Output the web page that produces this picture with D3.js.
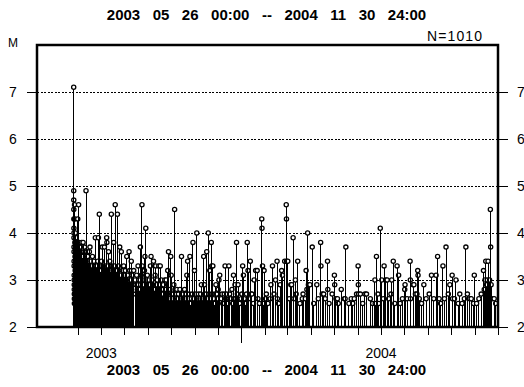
<!DOCTYPE html>
<html lang="en">
<head>
<meta charset="UTF-8">
<title>M-T plot 2003-2004</title>
<script src="https://d3js.org/d3.v7.min.js"></script>
<style>
  html, body { margin: 0; padding: 0; background: #fff; }
  text { font-family: "Liberation Sans", Arial, sans-serif; fill: #000; }
</style>
</head>
<body>
<div id="chart"></div>
<script>
// labels
const periodLabel = "2003   05   26   00:00   --   2004   11   30   24:00";
const countLabel = "N=1010";
const magTicks = [2, 3, 4, 5, 6, 7];
const magGrid = [3, 4, 5, 6, 7];
const yearLabels = [2003, 2004];

// events: [days after 2003-05-26 00:00, magnitude]
const firstDays = [
  [0.0,7.1],[0.05,4.9],[0.1,4.7],[0.15,4.5],[0.2,4.3],[0.25,4.1],[0.3,4.0],[0.35,3.9],[0.4,3.7],
  [0.45,3.6],[0.5,3.4],[0.55,3.3],[0.6,3.1],[0.65,3.0],[0.7,2.9],[0.75,2.8],[0.8,2.7],[0.85,2.6],[0.9,2.5],
  [1.1,4.6],[1.3,4.3],[1.5,3.8],[1.6,2.7],[1.7,3.5],[1.9,3.2],[1.95,2.9]
];
const earlyEvents = [
  [2.2,4.0],[2.5,3.6],[2.8,3.1],[2.9,2.7],[3.3,3.9],[3.6,3.4],[3.8,2.9],[4.2,3.8],[4.6,3.2],[4.8,2.8],
  [5.3,4.3],[5.5,3.5],[5.8,2.9],[6.4,4.6],[6.6,3.7],[6.9,3.0],[7.2,3.8],[7.6,3.1],[7.9,2.7],[8.3,3.7],[8.7,3.0],
  [9.1,3.6],[9.5,3.2],[9.9,2.8],[10.4,3.8],[10.7,2.9],[11.2,3.5],[11.8,3.0],[12.3,3.8],[12.6,3.3],[12.9,2.7],
  [13.4,3.6],[13.8,2.9],[14.2,3.7],[14.6,3.1],[15.5,3.5],[15.8,2.8],[16.1,4.9],[16.4,3.4],[16.8,2.9],
  [17.3,3.6],[17.7,3.0],[18.2,3.5],[18.8,2.8],[19.4,3.4],[19.7,3.0],[20.5,3.6],[20.9,2.7],[21.3,3.7],[21.6,3.2],
  [22.4,3.4],[22.8,2.8],[23.2,3.3],[23.7,2.9],[24.5,3.5],[24.9,2.7],[25.3,3.2],[25.8,2.8],[26.4,3.4],[26.6,3.0],
  [27.2,3.3],[27.7,2.7],[28.3,3.9],[28.6,3.1],[29.4,3.3],[29.8,2.8],[30.2,3.2],[30.7,2.9],[31.5,3.4],[31.9,2.7],
  [32.3,3.9],[32.7,3.0],[33.5,4.4],[33.8,3.2],[34.2,3.3],[34.6,2.8],[35.4,3.2],[35.9,2.7],[36.3,3.4],[36.7,2.9],
  [37.2,3.7],[37.6,3.0],[38.4,3.3],[38.8,2.8],[39.3,3.1],[39.7,2.7],[40.2,3.7],[40.6,3.2],[41.5,3.3],[41.8,2.9],
  [42.3,3.2],[42.7,2.7],[43.1,3.9],[43.4,3.8],[43.8,3.0],[44.5,3.3],[44.9,2.8],[45.3,3.1],[45.6,3.6],
  [47.2,3.4],[47.6,2.9],[48.4,3.2],[48.8,2.7],[49.2,4.4],[49.6,3.0],[50.3,3.3],[50.7,2.8],[51.4,3.2],[51.8,2.9],
  [52.3,3.8],[52.7,3.0],[53.2,3.3],[53.6,2.7],[54.3,4.6],[54.7,3.1],[55.4,3.2],[55.8,2.8],[56.3,3.1],[56.7,2.7],
  [57.2,4.4],[57.6,3.0],[58.4,3.3],[58.8,2.8],[59.3,3.0],[60.2,3.7],[60.6,2.9],[61.4,3.1],[61.8,2.7],
  [62.3,3.6],[62.7,2.8],[63.5,3.2],[64.3,3.0],[64.7,2.7],[65.4,3.3],[66.2,3.1],[66.6,2.8],[67.5,3.2],[68.3,2.9],
  [69.4,3.5],[69.8,2.8],[70.3,3.1],[71.2,3.0],[71.6,2.7],[72.4,3.6],[72.8,2.9],[73.3,3.2],[74.5,3.0],
  [75.3,3.4],[75.7,2.8],[76.4,3.1],[77.2,2.9],[78.5,3.2],[80.3,3.0],[80.7,2.7],[81.4,2.9],[82.3,3.1],[83.5,2.8],
  [84.2,3.3],[84.6,2.9],[85.4,3.0],[86.3,2.8],[87.2,3.7],[87.6,2.9],[88.4,3.1],[89.3,4.6],[89.6,3.3],[90.4,3.0],
  [91.3,2.9],[92.5,3.2],[93.2,3.5],[93.6,2.8],[94.3,4.1],[94.7,3.0],[95.4,2.9],[96.3,3.1],[97.5,2.8],[98.4,3.0],
  [99.3,2.9],[100.4,3.3],[101.2,3.5],[101.6,2.8],[102.5,3.0],[103.3,2.9],[104.4,3.4],[105.2,2.8],[106.5,3.1],
  [107.3,3.3],[108.4,2.9],[109.3,3.0],[110.5,2.8],[111.3,3.3],[112.4,2.9],[113.2,3.3],[114.5,3.0],[115.3,2.8],
  [116.4,2.7],[117.3,2.9],[118.5,2.6],[119.2,3.0],[120.4,2.8]
];
const lateEvents2003 = [
  [121,3.0],[122,2.7],[123,3.2],[124,3.6],[125,2.6],[126,2.8],[127,3.5],[127.5,3.1],[128,2.7],[129,2.6],
  [130,2.7],[131,2.9],[132,4.5],[133,2.6],[134,2.7],[135,2.8],[136,2.6],[137,2.7],[138,2.5],[139,2.8],
  [140,2.6],[141,3.5],[142,2.7],[143,2.6],[144,2.5],[145,2.8],[146,2.6],[147,2.7],[148,3.1],[149,3.4],
  [150,2.6],[151,2.7],[152,3.5],[153,2.5],[154,2.6],[155,2.7],[156,3.8],[157,2.6],[158,3.2],[159,2.7],
  [160,2.5],[161,4.0],[162,2.6],[163,2.7],[164,2.5],[165,2.6],[166,2.7],[167,2.9],[168,2.6],[169,2.5],
  [170,3.5],[171,2.9],[172,2.6],[173,2.7],[174,3.6],[175,2.6],[176,4.0],[177,2.7],[178,3.2],[179,2.6],
  [180,3.8],[180.5,3.3],[181,2.7],[182,3.3],[183,2.6],[184,2.5],[185,2.7],[186,2.9],[187,2.7],[188,2.6],
  [189,2.8],[190,3.0],[191,3.1],[193,2.6],[194,2.7],[195,2.5],[197,2.7],[198,3.3],[199,2.6],[200,2.7],
  [201,2.5],[203,3.3],[204,2.7],[206,2.6],[207,2.8],[208,2.5],[209,3.1],[210,2.6],[211,2.9],[212,2.6],
  [213,3.8],[214,2.7],[215,2.9],[217,2.5],[219,2.6]
];
const events2004 = [
  [220,2.7],[221,3.3],[222,3.1],[223,2.6],[225,2.5],[226,2.7],[227,3.8],[228,3.2],[229,2.6],[231,3.4],
  [232,2.7],[233,2.7],[235,2.5],[236,3.0],[238,3.2],[240,3.2],[241,2.6],[243,2.5],[246,4.3],[246.3,4.1],
  [247,3.3],[248,2.5],[249,3.2],[251,2.6],[252,2.7],[254,2.5],[257,2.6],[258,2.9],[260,3.3],[262,2.7],
  [264,3.0],[266,3.4],[266.5,2.6],[268,2.5],[270,2.9],[272,3.2],[273,3.1],[276,3.4],[278,4.6],[278.3,4.3],
  [278.6,3.4],[280,3.4],[282,2.6],[284,2.9],[285,2.9],[287,3.9],[288,2.6],[290,3.0],[291,2.7],[293,3.4],
  [296,2.5],[299,2.6],[300,2.7],[303,2.6],[304,3.2],[305,2.8],[306,4.0],[307,2.9],[309,2.9],[312,3.7],
  [314,2.5],[318,2.9],[320,2.6],[323,3.8],[323.4,3.3],[325,2.7],[327,2.7],[329,2.6],[332,3.4],[332.4,2.8],
  [334,2.5],[338,2.7],[341,3.1],[341.4,2.9],[343,2.6],[345,2.6],[346,2.5],[350,2.8],[354,2.6],[355,2.6],
  [356,3.7],[360,2.5],[363,2.6],[365,2.5],[367,2.6],[370,2.7],[372,3.3],[372.3,2.9],[372.6,2.7],[375,2.7],
  [378,2.5],[381,2.7],[383,2.7],[388,2.6],[391,2.5],[394,3.0],[394.4,2.5],[396,3.5],[398,2.7],[399,2.5],
  [401,4.1],[403,3.0],[405,2.6],[406,3.3],[408,3.0],[410,3.0],[412,2.6],[415,2.7],[416,3.0],[418,3.4],
  [420,2.5],[423,3.3],[425,3.1],[427,2.5],[430,2.6],[433,2.8],[433.4,2.9],[436,2.6],[440,3.4],[440.3,3.0],
  [440.6,2.6],[444,2.9],[445,2.9],[447,2.7],[449,2.7],[450,3.2],[450.4,3.1],[452,2.6],[455,2.5],[458,2.9],
  [461,2.6],[465,2.7],[468,3.1],[471,2.6],[474,3.1],[476,3.5],[478,2.6],[480,2.5],[483,3.3],[485,2.6],
  [487,3.7],[490,2.7],[492,2.9],[495,3.1],[495.4,2.6],[498,2.6],[500,3.0],[503,2.5],[505,2.7],[508,2.5],
  [511,2.6],[513,3.7],[515,2.7],[518,2.6],[520,2.6],[523,2.5],[524,3.1],[527,2.5],[530,2.6],[533,2.7],
  [536,3.2],[537,2.8],[538,3.0],[539,3.4],[540,2.9],[541,3.0],[542,3.4],[543,2.8],[544,3.0],[545,4.5],
  [545.4,3.7],[546,2.9],[547,2.6],[550,2.6],[552,2.5]
];

const W = 524, H = 387;
const plotLeft = 37, plotRight = 498, plotTop = 45, plotBottom = 327;
const start = new Date(2003, 4, 26);
const dotR = 2.1;

const events = [...firstDays, ...earlyEvents, ...lateEvents2003, ...events2004]
  .map(d => ({ date: new Date(start.getTime() + d[0] * 864e5), mag: d[1] }));

const svg = d3.select('#chart').append('svg')
  .attr('width', W)
  .attr('height', H);

const x = d3.scaleTime()
  .domain([new Date(2003, 3, 8), new Date(2004, 11, 1)])
  .range([plotLeft, plotRight]);
const y = d3.scaleLinear()
  .domain([2, 8])
  .range([plotBottom, plotTop]);

// titles (same period line above and below)
[20, 375].forEach(ty => {
  svg.append('text')
    .attr('x', 266.5).attr('y', ty)
    .attr('text-anchor', 'middle')
    .attr('font-size', 15).attr('font-weight', 'bold')
    .style('white-space', 'pre')
    .text(periodLabel);
});
svg.append('text')
  .attr('x', 482).attr('y', 41)
  .attr('text-anchor', 'end')
  .attr('font-size', 14)
  .attr('textLength', 55)
  .text(countLabel);
svg.append('text')
  .attr('x', 13).attr('y', 47)
  .attr('text-anchor', 'middle')
  .attr('font-size', 12)
  .text('M');

// dotted grid
svg.append('g').selectAll('line')
  .data(magGrid)
  .join('line')
  .attr('x1', plotLeft).attr('x2', plotRight)
  .attr('y1', d => y(d)).attr('y2', d => y(d))
  .attr('stroke', '#000')
  .attr('stroke-width', 1)
  .attr('stroke-dasharray', '2,1.5')
  .attr('shape-rendering', 'crispEdges');

// magnitude ticks on both sides
const tickG = svg.append('g');
tickG.selectAll('.tl')
  .data(magTicks)
  .join('line')
  .attr('x1', plotLeft - 10).attr('x2', plotLeft)
  .attr('y1', d => y(d)).attr('y2', d => y(d))
  .attr('stroke', '#000').attr('shape-rendering', 'crispEdges');
tickG.selectAll('.tr')
  .data(magTicks)
  .join('line')
  .attr('x1', plotRight).attr('x2', plotRight + 10)
  .attr('y1', d => y(d)).attr('y2', d => y(d))
  .attr('stroke', '#000').attr('shape-rendering', 'crispEdges');
tickG.selectAll('.ll')
  .data(magTicks)
  .join('text')
  .attr('x', 13).attr('y', d => y(d) + 5)
  .attr('text-anchor', 'middle')
  .attr('font-size', 14)
  .text(d => d);
tickG.selectAll('.rl')
  .data(magTicks)
  .join('text')
  .attr('x', 517).attr('y', d => y(d) + 5)
  .attr('font-size', 14)
  .text(d => d);

// month ticks, longer at the year boundary
const months = d3.timeMonth.range(new Date(2003, 5, 1), new Date(2004, 11, 2));
svg.append('g').selectAll('line')
  .data(months)
  .join('line')
  .attr('x1', d => x(d)).attr('x2', d => x(d))
  .attr('y1', plotBottom)
  .attr('y2', d => d.getMonth() === 0 ? plotBottom + 16 : plotBottom + 8)
  .attr('stroke', '#000')
  .attr('shape-rendering', 'crispEdges');
svg.append('g').selectAll('text')
  .data(yearLabels)
  .join('text')
  .attr('x', d => x(new Date(d, 6, 1)))
  .attr('y', 358)
  .attr('text-anchor', 'middle')
  .attr('font-size', 14)
  .text(d => d);

// circles first, stems on top so dense swarms read as solid black
svg.append('g').selectAll('circle')
  .data(events)
  .join('circle')
  .attr('cx', d => x(d.date))
  .attr('cy', d => y(d.mag))
  .attr('r', dotR)
  .attr('fill', '#fff')
  .attr('stroke', '#000')
  .attr('stroke-width', 1.3);
svg.append('g').selectAll('line')
  .data(events)
  .join('line')
  .attr('x1', d => x(d.date)).attr('x2', d => x(d.date))
  .attr('y1', plotBottom).attr('y2', d => y(d.mag) + dotR)
  .attr('stroke', '#000')
  .attr('stroke-width', 1)
  .attr('shape-rendering', 'crispEdges');

// frame
svg.append('rect')
  .attr('x', plotLeft).attr('y', plotTop)
  .attr('width', plotRight - plotLeft).attr('height', plotBottom - plotTop)
  .attr('fill', 'none')
  .attr('stroke', '#000')
  .attr('stroke-width', 2.5);
</script>
</body>
</html>
